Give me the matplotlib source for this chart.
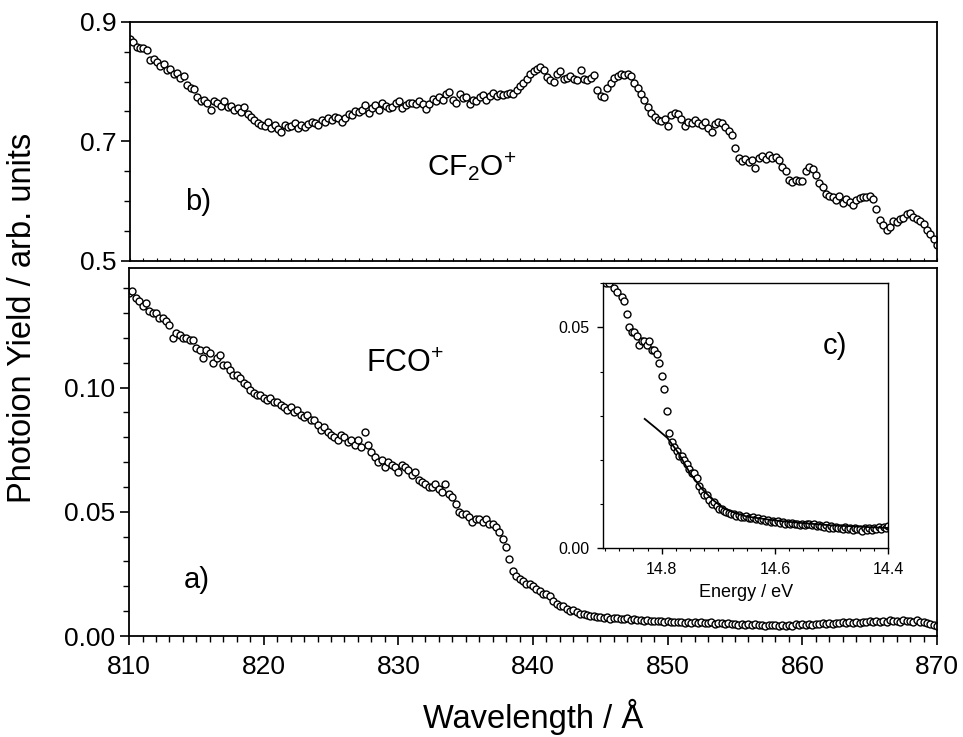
#!/usr/bin/env python3

import numpy as np
import matplotlib.pyplot as plt
from matplotlib.ticker import MultipleLocator, FixedLocator, FormatStrFormatter

plt.rcParams['font.family'] = ['Liberation Sans', 'DejaVu Sans']
plt.rcParams['mathtext.fontset'] = 'custom'
plt.rcParams['mathtext.rm'] = 'Liberation Sans'
plt.rcParams['mathtext.it'] = 'Liberation Sans:italic'

# wavelength grid of the scans (Angstrom), 0.25 A steps from 810 to 870
wl_start = 810.0
wl_step = 0.25

# b) CF2O+ yield
cf2o = [
    0.872, 0.866, 0.858, 0.856, 0.857, 0.853, 0.836, 0.838,
    0.833, 0.826, 0.830, 0.819, 0.821, 0.812, 0.815, 0.806,
    0.809, 0.795, 0.790, 0.788, 0.775, 0.768, 0.770, 0.764,
    0.752, 0.768, 0.765, 0.760, 0.767, 0.758, 0.760, 0.752,
    0.755, 0.749, 0.758, 0.745, 0.740, 0.736, 0.731, 0.728,
    0.726, 0.732, 0.722, 0.728, 0.720, 0.716, 0.727, 0.724,
    0.726, 0.730, 0.722, 0.727, 0.724, 0.729, 0.733, 0.731,
    0.728, 0.736, 0.733, 0.739, 0.736, 0.741, 0.739, 0.733,
    0.739, 0.746, 0.744, 0.751, 0.749, 0.753, 0.761, 0.748,
    0.755, 0.761, 0.752, 0.764, 0.760, 0.755, 0.758, 0.764,
    0.768, 0.756, 0.761, 0.765, 0.764, 0.762, 0.768, 0.762,
    0.754, 0.763, 0.771, 0.767, 0.774, 0.770, 0.779, 0.783,
    0.770, 0.765, 0.780, 0.772, 0.774, 0.762, 0.770, 0.768,
    0.774, 0.778, 0.770, 0.776, 0.781, 0.776, 0.779, 0.778,
    0.779, 0.781, 0.780, 0.786, 0.792, 0.798, 0.804, 0.812,
    0.818, 0.822, 0.824, 0.819, 0.808, 0.802, 0.800, 0.812,
    0.818, 0.804, 0.806, 0.809, 0.804, 0.802, 0.820, 0.805,
    0.803, 0.806, 0.811, 0.786, 0.776, 0.775, 0.790, 0.798,
    0.806, 0.810, 0.812, 0.811, 0.812, 0.810, 0.798, 0.790,
    0.780, 0.770, 0.758, 0.748, 0.741, 0.736, 0.734, 0.737,
    0.726, 0.744, 0.748, 0.745, 0.738, 0.725, 0.733, 0.731,
    0.736, 0.730, 0.727, 0.733, 0.723, 0.716, 0.729, 0.733,
    0.730, 0.724, 0.717, 0.710, 0.688, 0.672, 0.667, 0.670,
    0.666, 0.669, 0.655, 0.672, 0.675, 0.671, 0.677, 0.672,
    0.674, 0.668, 0.657, 0.650, 0.636, 0.632, 0.635, 0.633,
    0.634, 0.650, 0.657, 0.653, 0.643, 0.630, 0.624, 0.612,
    0.609, 0.606, 0.601, 0.608, 0.596, 0.604, 0.598, 0.594,
    0.601, 0.605, 0.607, 0.606, 0.609, 0.603, 0.586, 0.568,
    0.560, 0.552, 0.556, 0.566, 0.564, 0.569, 0.571, 0.578,
    0.580, 0.574, 0.569, 0.566, 0.562, 0.551, 0.545, 0.537,
    0.526,
]

# a) FCO+ yield
fco = [
    0.138, 0.139, 0.136, 0.135, 0.133, 0.134, 0.131, 0.130,
    0.130, 0.128, 0.128, 0.127, 0.125, 0.120, 0.122, 0.121,
    0.120, 0.120, 0.119, 0.119, 0.116, 0.115, 0.112, 0.115,
    0.114, 0.110, 0.112, 0.113, 0.109, 0.109, 0.107, 0.105,
    0.105, 0.104, 0.102, 0.101, 0.099, 0.098, 0.097, 0.097,
    0.096, 0.095, 0.096, 0.094, 0.094, 0.093, 0.092, 0.091,
    0.092, 0.090, 0.091, 0.089, 0.088, 0.089, 0.087, 0.087,
    0.085, 0.083, 0.084, 0.082, 0.081, 0.080, 0.079, 0.081,
    0.080, 0.078, 0.079, 0.077, 0.079, 0.076, 0.082, 0.077,
    0.074, 0.072, 0.070, 0.071, 0.068, 0.070, 0.069, 0.068,
    0.066, 0.069, 0.068, 0.067, 0.065, 0.066, 0.063, 0.062,
    0.061, 0.060, 0.060, 0.061, 0.059, 0.058, 0.061, 0.057,
    0.056, 0.053, 0.050, 0.049, 0.049, 0.048, 0.046, 0.047,
    0.047, 0.046, 0.047, 0.045, 0.045, 0.044, 0.042, 0.039,
    0.036, 0.031, 0.026, 0.024, 0.023, 0.022, 0.021, 0.021,
    0.020, 0.019, 0.018, 0.017, 0.017, 0.016, 0.014, 0.013,
    0.012, 0.012, 0.011, 0.010, 0.0105, 0.0095, 0.0090, 0.0088,
    0.0085, 0.0082, 0.0080, 0.0078, 0.0078, 0.0074, 0.0076, 0.0070,
    0.0072, 0.0074, 0.0069, 0.0068, 0.0071, 0.0066, 0.0068, 0.0064,
    0.0066, 0.0062, 0.0065, 0.0060, 0.0062, 0.0059, 0.0061, 0.0058,
    0.0060, 0.0056, 0.0058, 0.0055, 0.0057, 0.0054, 0.0056, 0.0053,
    0.0055, 0.0052, 0.0056, 0.0054, 0.0052, 0.0055, 0.0050, 0.0053,
    0.0051, 0.0048, 0.0052, 0.0047, 0.0050, 0.0046, 0.0049, 0.0045,
    0.0047, 0.0043, 0.0048, 0.0044, 0.0045, 0.0041, 0.0046, 0.0043,
    0.0044, 0.0040, 0.0045, 0.0042, 0.0046, 0.0042, 0.0047, 0.0044,
    0.0048, 0.0044, 0.0049, 0.0046, 0.0050, 0.0047, 0.0051, 0.0048,
    0.0053, 0.0050, 0.0054, 0.0051, 0.0055, 0.0052, 0.0057, 0.0053,
    0.0056, 0.0054, 0.0058, 0.0055, 0.0059, 0.0056, 0.0061, 0.0057,
    0.0060, 0.0057, 0.0063, 0.0059, 0.0062, 0.0058, 0.0064, 0.0060,
    0.0061, 0.0057, 0.0063, 0.0058, 0.0056, 0.0052, 0.0049, 0.0045,
    0.0040,
]

# c) fitted threshold curve (energy in eV, yield)
fit_energy = [14.83, 14.81, 14.79, 14.77, 14.75, 14.73, 14.71, 14.69,
              14.67, 14.65, 14.60, 14.55, 14.50, 14.45, 14.40]
fit_yield = [0.0293, 0.0272, 0.0250, 0.0215, 0.0170, 0.0136, 0.0110, 0.0090,
             0.0080, 0.0072, 0.0063, 0.0057, 0.0052, 0.0049, 0.0046]

hc = 12398.42  # eV * Angstrom

wl = wl_start + wl_step*np.arange(len(fco))
energy = hc/wl

mk = dict(linestyle='none', marker='o', mfc='white', mec='black', ms=5.0, mew=1.0)

fig = plt.figure(figsize=(9.63, 7.37), dpi=100)
ax_b = fig.add_axes([0.135, 0.6463, 0.838, 0.3239])
ax_a = fig.add_axes([0.134, 0.137, 0.839, 0.4989])
ax_c = fig.add_axes([0.6265, 0.256, 0.296, 0.3596])

for ax in (ax_a, ax_b):
    for s in ax.spines.values():
        s.set_linewidth(1.3)

# b) CF2O+
ax_b.plot(wl, cf2o, **mk)
ax_b.set_xlim(810, 870)
ax_b.set_ylim(0.5, 0.9)
ax_b.yaxis.set_major_locator(FixedLocator([0.5, 0.7, 0.9]))
ax_b.yaxis.set_minor_locator(MultipleLocator(0.05))
ax_b.yaxis.set_major_formatter(FormatStrFormatter('%.1f'))
ax_b.xaxis.set_major_locator(MultipleLocator(10))
ax_b.xaxis.set_minor_locator(MultipleLocator(1))
ax_b.tick_params(axis='y', which='major', direction='out', length=6.7, width=1.2, labelsize=19, pad=3)
ax_b.tick_params(axis='y', which='minor', direction='out', length=4.5, width=1.0)
ax_b.tick_params(axis='x', which='both', direction='in', length=2.5, width=0.8, labelbottom=False)
ax_b.text(815.05, 0.599, 'b)', fontsize=21, ha='center', va='center')
ax_b.text(835.4, 0.657, r'CF$_\mathrm{2}$O$^\mathrm{+}$', fontsize=21.5, ha='center', va='center')

# a) FCO+
ax_a.plot(wl, fco, **mk)
ax_a.set_xlim(810, 870)
ax_a.set_ylim(0, 0.148)
ax_a.xaxis.set_major_locator(MultipleLocator(10))
ax_a.xaxis.set_minor_locator(MultipleLocator(1))
ax_a.yaxis.set_major_locator(MultipleLocator(0.05))
ax_a.yaxis.set_minor_locator(MultipleLocator(0.01))
ax_a.yaxis.set_major_formatter(FormatStrFormatter('%.2f'))
ax_a.tick_params(axis='both', which='major', direction='out', length=6.7, width=1.2, labelsize=19)
ax_a.tick_params(axis='both', which='minor', direction='out', length=4.2, width=1.0)
ax_a.tick_params(axis='x', which='major', pad=7)
ax_a.tick_params(axis='y', which='major', pad=3)
ax_a.set_xlabel('Wavelength / Å', fontsize=23.5, labelpad=14)
ax_a.text(815.05, 0.0226, 'a)', fontsize=21, ha='center', va='center')
ax_a.text(830.5, 0.1093, r'FCO$^\mathrm{+}$', fontsize=22, ha='center', va='center')

fig.text(0.023, 0.5685, 'Photoion Yield / arb. units', rotation=90,
         fontsize=23.5, ha='center', va='center')

# c) inset, same FCO+ data against photon energy
ax_c.plot(energy, fco, **mk)
ax_c.plot(fit_energy, fit_yield, color='black', lw=1.3)
ax_c.set_xlim(14.903, 14.4)
ax_c.set_ylim(0, 0.06)
ax_c.xaxis.set_major_locator(MultipleLocator(0.2))
ax_c.xaxis.set_minor_locator(MultipleLocator(0.025))
ax_c.xaxis.set_major_formatter(FormatStrFormatter('%.1f'))
ax_c.yaxis.set_major_locator(MultipleLocator(0.05))
ax_c.yaxis.set_minor_locator(MultipleLocator(0.01))
ax_c.yaxis.set_major_formatter(FormatStrFormatter('%.2f'))
ax_c.tick_params(axis='both', which='major', direction='out', length=4, width=1.0, labelsize=11.5, pad=6)
ax_c.tick_params(axis='both', which='minor', direction='out', length=2.5, width=0.8)
for s in ax_c.spines.values():
    s.set_linewidth(1.0)
ax_c.set_xlabel('Energy / eV', fontsize=13, labelpad=5)
ax_c.text(14.495, 0.0458, 'c)', fontsize=21, ha='center', va='center')

fig.savefig('out.png', dpi=100)
